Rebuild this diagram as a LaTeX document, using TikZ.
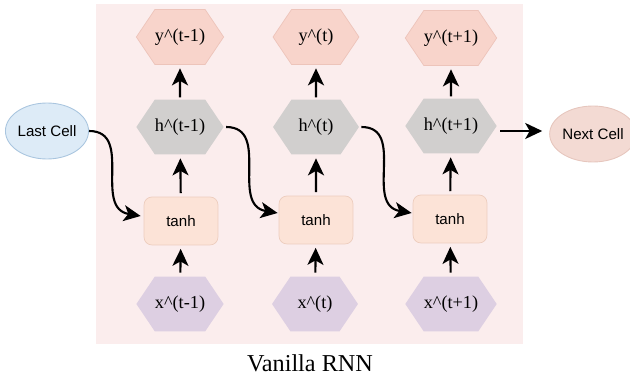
\documentclass[tikz,border=0pt]{standalone}
\usepackage{fontspec}
\setmainfont{Liberation Serif}
\setsansfont{Liberation Sans}
\usetikzlibrary{shapes.symbols,shapes.geometric,arrows.meta,calc}

\definecolor{panelbg}{HTML}{FBEDED}
\definecolor{outfill}{HTML}{F8D4CB}
\definecolor{outline}{HTML}{EDC4BA}
\definecolor{hidfill}{HTML}{D1CFCE}
\definecolor{infill}{HTML}{DDCFE2}
\definecolor{tanhfill}{HTML}{FCE3D7}
\definecolor{tanhline}{HTML}{EDCDBE}
\definecolor{lastfill}{HTML}{DDEBF7}
\definecolor{lastline}{HTML}{A9C5DF}
\definecolor{nextfill}{HTML}{F3DAD3}
\definecolor{nextline}{HTML}{E6C6BD}

\begin{document}
\begin{tikzpicture}[x=0.02cm,y=-0.02cm,
  hexa/.style={shape=signal, signal to=east and west, signal pointer angle=112,
    minimum width=1.72cm, minimum height=1.1cm, inner sep=0pt,
    font=\fontsize{10.4pt}{12pt}\selectfont},
  outhex/.style={hexa, fill=outfill, draw=outline, line width=0.4pt},
  hidhex/.style={hexa, fill=hidfill},
  inhex/.style={hexa, fill=infill},
  tanhbox/.style={rectangle, rounded corners=0.16cm, fill=tanhfill, draw=tanhline,
    line width=0.4pt, minimum width=1.48cm, minimum height=0.96cm,
    font=\sffamily\fontsize{8.6pt}{10pt}\selectfont},
  cell/.style={ellipse, minimum width=1.58cm, minimum height=1.12cm, inner sep=0pt,
    line width=0.5pt, font=\sffamily\fontsize{8.6pt}{10pt}\selectfont},
  arr/.style={-{Stealth[length=0.34cm,width=0.32cm,inset=0.09cm]}, line width=1.2pt, black},
]
\useasboundingbox (0,0) rectangle (630,378);

% panel behind the unrolled cells
\fill[panelbg] (96,4) rectangle (523,344);

% outputs
\node[outhex] (y1) at (180,37) {y\textasciicircum(t-1)};
\node[outhex] (y2) at (316,37) {y\textasciicircum(t)};
\node[outhex] (y3) at (451,38) {y\textasciicircum(t+1)};

% hidden states
\node[hidhex] (h1) at (180,127) {h\textasciicircum(t-1)};
\node[hidhex] (h2) at (316,127) {h\textasciicircum(t)};
\node[hidhex] (h3) at (451,126) {h\textasciicircum(t+1)};

% activations
\node[tanhbox] (a1) at (181,221) {tanh};
\node[tanhbox] (a2) at (316,220) {tanh};
\node[tanhbox] (a3) at (450,219) {tanh};

% inputs
\node[inhex] (x1) at (180,304) {x\textasciicircum(t-1)};
\node[inhex] (x2) at (315,304) {x\textasciicircum(t)};
\node[inhex] (x3) at (451,304) {x\textasciicircum(t+1)};

% neighbouring cells
\node[cell, fill=lastfill, draw=lastline] (last) at (47,131) {Last Cell};
\node[cell, fill=nextfill, draw=nextline] (next) at (593,134) {Next Cell};

% vertical flow inside each cell
\foreach \i in {1,2,3} {
  \draw[arr, shorten <=2pt, shorten >=2pt] (x\i) -- (a\i);
  \draw[arr, shorten <=2pt, shorten >=2pt] (a\i) -- (h\i);
  \draw[arr, shorten <=1pt, shorten >=2pt] (h\i) -- (y\i);
}

% recurrent connections
\coordinate (e1) at ($(a1.west)+(-3,-5)$);
\coordinate (e2) at ($(a2.west)+(-1,-7)$);
\coordinate (e3) at ($(a3.west)+(-1,-6)$);
\draw[arr] (last.east) .. controls +(45,0) and +(-48,-8) .. (e1);
\draw[arr] ($(h1.east)+(2,0)$) .. controls +(45,0) and +(-48,-8) .. (e2);
\draw[arr] ($(h2.east)+(2,0)$) .. controls +(45,0) and +(-48,-8) .. (e3);

% hand-off to the next cell
\draw[arr] ($(h3.east)+(3,5)$) -- ($(next.west)+(-7,-3)$);

% caption
\node[anchor=base, font=\fontsize{13.8pt}{16pt}\selectfont] (cap) at (310,372) {Vanilla RNN};
\end{tikzpicture}
\end{document}
